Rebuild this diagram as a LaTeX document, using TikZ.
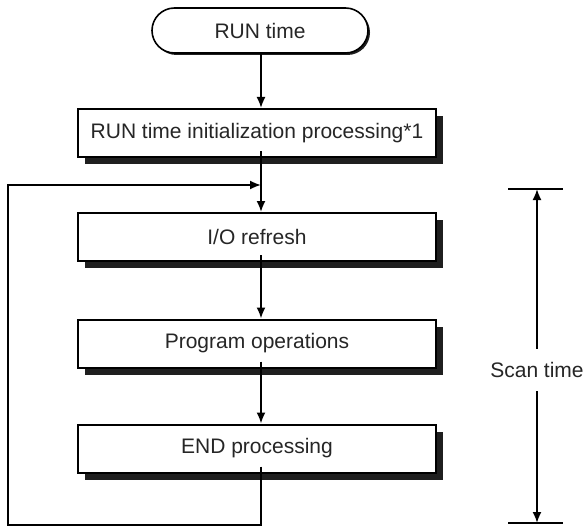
\documentclass[tikz,border=0pt]{standalone}
\usepackage{fontspec}
\setmainfont{Liberation Sans}
\usetikzlibrary{arrows.meta,shapes.misc,shadows}
\begin{document}
\begin{tikzpicture}[x=1pt,y=-1pt,
  txt/.style={font=\fontsize{21}{25}\selectfont, text=black!85},
  procbox/.style={txt, draw, line width=2pt, fill=white, minimum width=358pt, minimum height=48pt, inner sep=0pt,
    drop shadow={shadow xshift=7pt, shadow yshift=-7pt, opacity=1, fill=black!88}},
  term/.style={txt, draw, line width=1.6pt, fill=white, rounded rectangle, rounded rectangle arc length=180,
    minimum width=216pt, minimum height=45pt, inner sep=0pt,
    drop shadow={shadow xshift=2pt, shadow yshift=-2pt, opacity=1, fill=black!88}},
  conn/.style={line width=1.8pt, black},
  arr/.style={conn, -{Latex[length=11pt,width=9pt]}}
]
\useasboundingbox[fill=white] (0,0) rectangle (584,527);

\node[term] (run) at (260,30.5) {RUN time};
\node[procbox] (init) at (257,133) {RUN time initialization processing*1};
\node[procbox] (io) at (257,237) {I/O refresh};
\node[procbox] (prog) at (257,343.5) {Program operations};
\node[procbox] (endp) at (257,448.5) {END processing};

\coordinate (spine) at (261,0);
\coordinate (jn) at (261,185);
\coordinate (bl) at (8,525);

\draw[arr] (run.south -| spine) -- (init.north -| spine);
\draw[arr] ([yshift=7pt]init.south -| spine) -- (io.north -| spine);
\draw[arr] ([yshift=7pt]io.south -| spine) -- (prog.north -| spine);
\draw[arr] ([yshift=7pt]prog.south -| spine) -- (endp.north -| spine);
\draw[arr] ([yshift=7pt]endp.south -| spine) |- (bl) |- (jn);

% Scan time dimension
\node[txt, minimum height=42pt, inner sep=0pt] (scan) at (537,370) {Scan time};
\coordinate (st) at (537,189);
\coordinate (sb) at (537,523);
\coordinate (stl) at (508,189);
\coordinate (str) at (563,189);
\coordinate (sbl) at (508,523);
\coordinate (sbr) at (563,523);
\draw[conn] (stl) -- (str);
\draw[conn] (sbl) -- (sbr);
\draw[arr] (scan.north) -- (st);
\draw[arr] (scan.south) -- (sb);
\end{tikzpicture}
\end{document}
